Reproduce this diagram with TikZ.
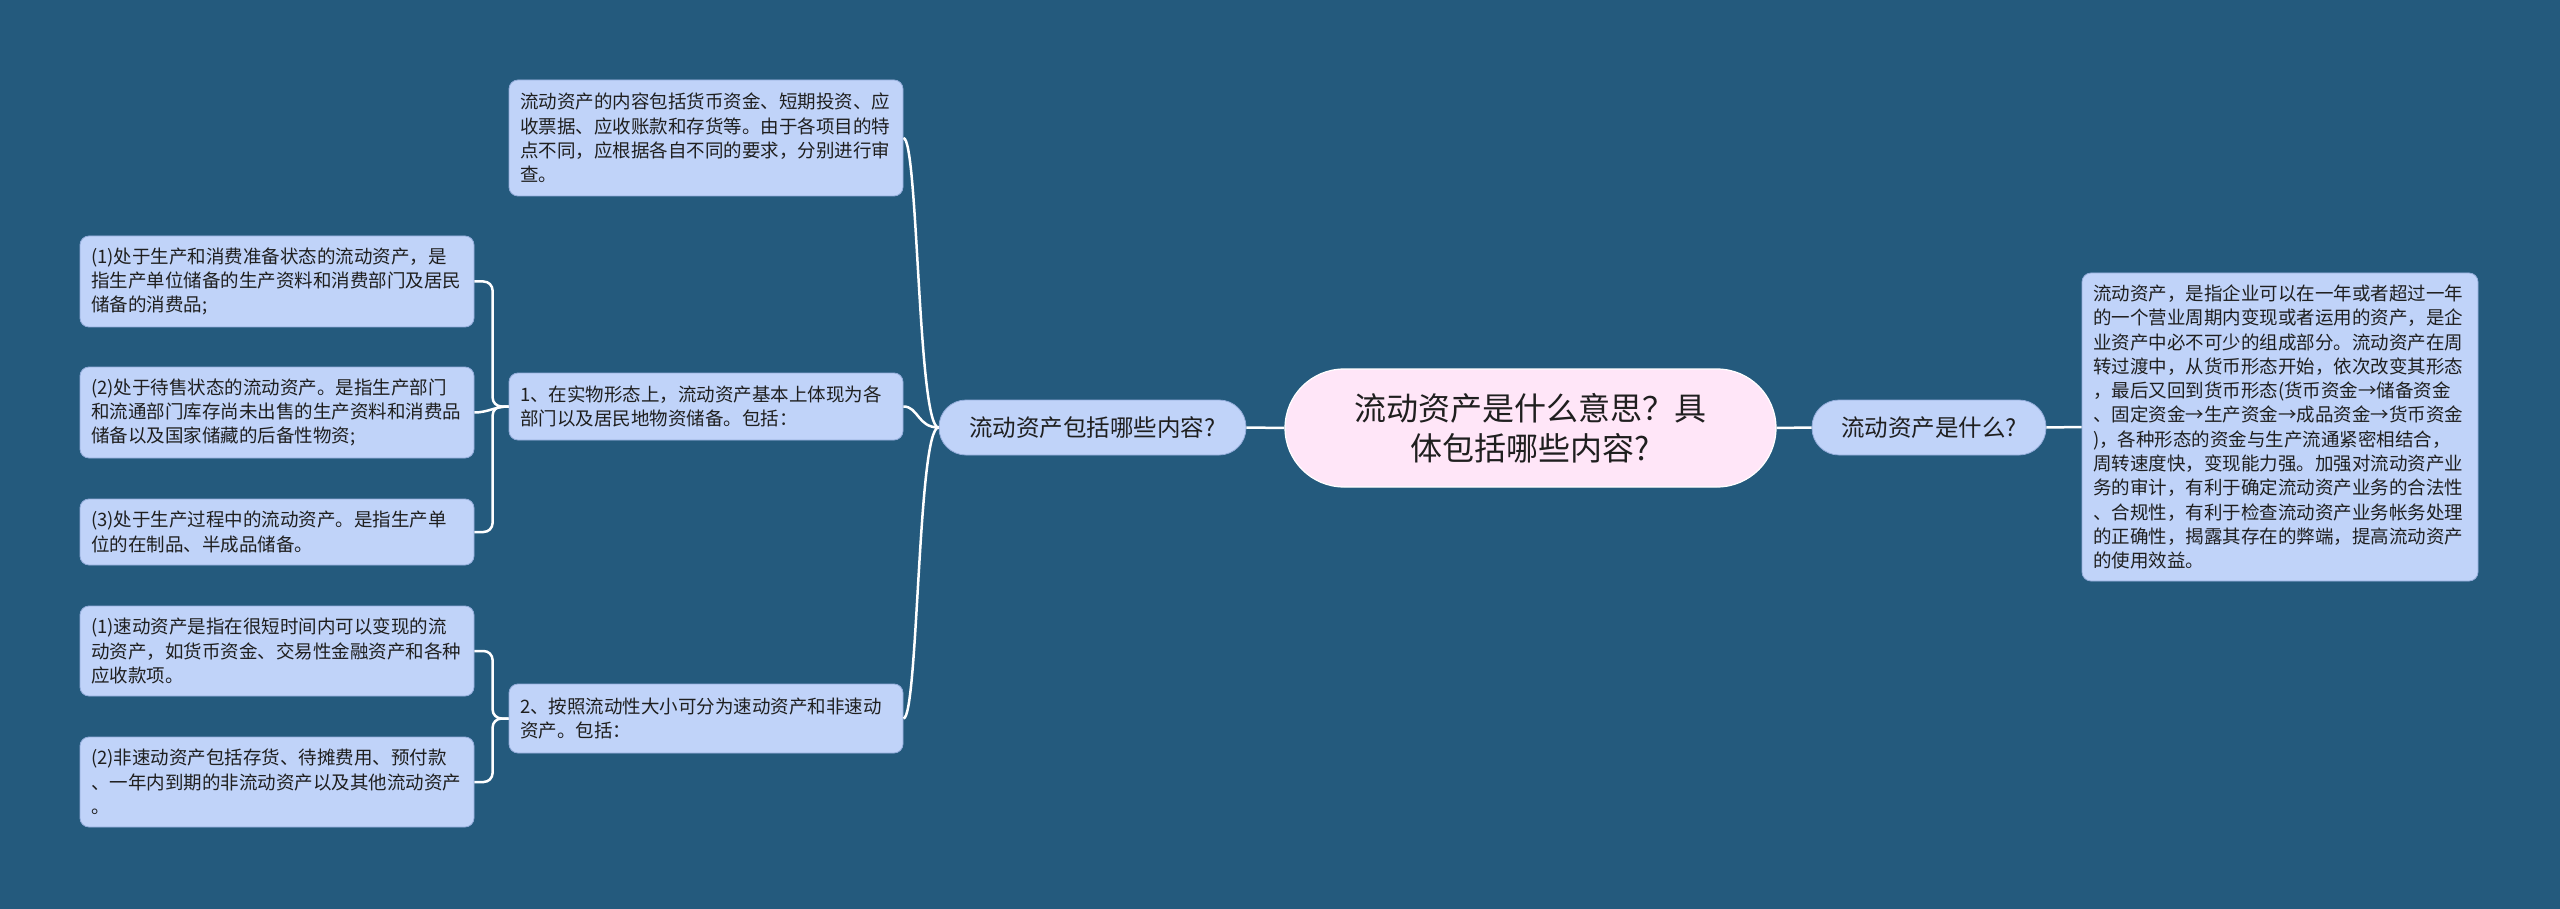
\documentclass[tikz,border=0pt]{standalone}
\usepackage{fontspec}
\setmainfont{Noto Sans CJK SC}
\usetikzlibrary{calc}
\definecolor{bg}{HTML}{245A7D}
\definecolor{boxfill}{HTML}{C0D3F9}
\definecolor{boxline}{HTML}{93ACDA}
\definecolor{rootfill}{HTML}{FFE6F8}
\definecolor{txt}{HTML}{1F1F1F}
\tikzset{
  leaf/.style={draw=boxline, line width=0.8pt, fill=boxfill, rounded corners=9pt,
    text=txt, font=\fontsize{18.5}{24.3}\selectfont, align=left,
    inner xsep=11pt, inner ysep=0pt, text width=372pt, minimum height=#1},
  bigleaf/.style={leaf=#1, text width=374pt},
  conn/.style={draw=white, line width=2.5pt},
  pill/.style={draw=boxline, line width=0.8pt, fill=boxfill, rounded corners=27pt,
    minimum width=#1, minimum height=55pt, font=\fontsize{23.5}{28}\selectfont,
    text=txt, inner sep=0pt},
  rootnode/.style={draw=white, line width=1.2pt, fill=rootfill, rounded corners=59pt,
    minimum width=491pt, minimum height=118pt, align=center,
    font=\fontsize{32}{40}\selectfont, text=txt, inner sep=0pt}
}
\begin{document}
\begin{tikzpicture}[x=1pt,y=-1pt]
\fill[bg] (0,0) rectangle (2560,909);
\useasboundingbox (0,0) rectangle (2560,909);

% nodes
\node[rootnode] (root) at (1530.5,428) {流动资产是什么意思？具\\体包括哪些内容?};
\node[pill=307pt] (M) at (1092.5,427.5) {流动资产包括哪些内容?};
\node[pill=234pt] (R) at (1929,427.5) {流动资产是什么?};

\node[bigleaf=308pt] (RB) at (2280,427) {流动资产，是指企业可以在一年或者超过一年\\的一个营业周期内变现或者运用的资产，是企\\业资产中必不可少的组成部分。流动资产在周\\转过渡中，从货币形态开始，依次改变其形态\\，最后又回到货币形态(货币资金→储备资金\\、固定资金→生产资金→成品资金→货币资金\\)，各种形态的资金与生产流通紧密相结合，\\周转速度快，变现能力强。加强对流动资产业\\务的审计，有利于确定流动资产业务的合法性\\、合规性，有利于检查流动资产业务帐务处理\\的正确性，揭露其存在的弊端，提高流动资产\\的使用效益。};

\node[leaf=116pt] (T) at (706,138) {流动资产的内容包括货币资金、短期投资、应\\收票据、应收账款和存货等。由于各项目的特\\点不同，应根据各自不同的要求，分别进行审\\查。};
\node[leaf=67pt] (P1) at (706,406.5) {1、在实物形态上，流动资产基本上体现为各\\部门以及居民地物资储备。包括：};
\node[leaf=69pt] (P2) at (706,718.5) {2、按照流动性大小可分为速动资产和非速动\\资产。包括：};

\node[leaf=91pt] (A1) at (277,281.5) {(1)处于生产和消费准备状态的流动资产，是\\指生产单位储备的生产资料和消费部门及居民\\储备的消费品;};
\node[leaf=91pt] (A2) at (277,412.5) {(2)处于待售状态的流动资产。是指生产部门\\和流通部门库存尚未出售的生产资料和消费品\\储备以及国家储藏的后备性物资;};
\node[leaf=66pt] (A3) at (277,532) {(3)处于生产过程中的流动资产。是指生产单\\位的在制品、半成品储备。};

\node[leaf=90pt] (B1) at (277,651) {(1)速动资产是指在很短时间内可以变现的流\\动资产，如货币资金、交易性金融资产和各种\\应收款项。};
\node[leaf=90pt] (B2) at (277,782) {(2)非速动资产包括存货、待摊费用、预付款\\、一年内到期的非流动资产以及其他流动资产\\。};

% connectors
\draw[conn] (root.west) -- (M.east);
\draw[conn] (root.east) -- (R.west);
\draw[conn] (R.east) -- (RB.west);

\draw[conn] (M.west) .. controls +(-21,0) and +(15,0) .. (T.east);
\draw[conn] (M.west) .. controls +(-21,0) and +(15,0) .. (P1.east);
\draw[conn] (M.west) .. controls +(-21,0) and +(15,0) .. (P2.east);

\draw[conn, rounded corners=9pt] (A1.east) -| ($(P1.west)+(-16,0)$) -- (P1.west);
\draw[conn] (A2.east) to[out=0,in=180] (P1.west);
\draw[conn, rounded corners=9pt] (A3.east) -| ($(P1.west)+(-16,0)$) -- (P1.west);

\draw[conn, rounded corners=9pt] (B1.east) -| ($(P2.west)+(-16,0)$) -- (P2.west);
\draw[conn, rounded corners=9pt] (B2.east) -| ($(P2.west)+(-16,0)$) -- (P2.west);
\end{tikzpicture}
\end{document}
